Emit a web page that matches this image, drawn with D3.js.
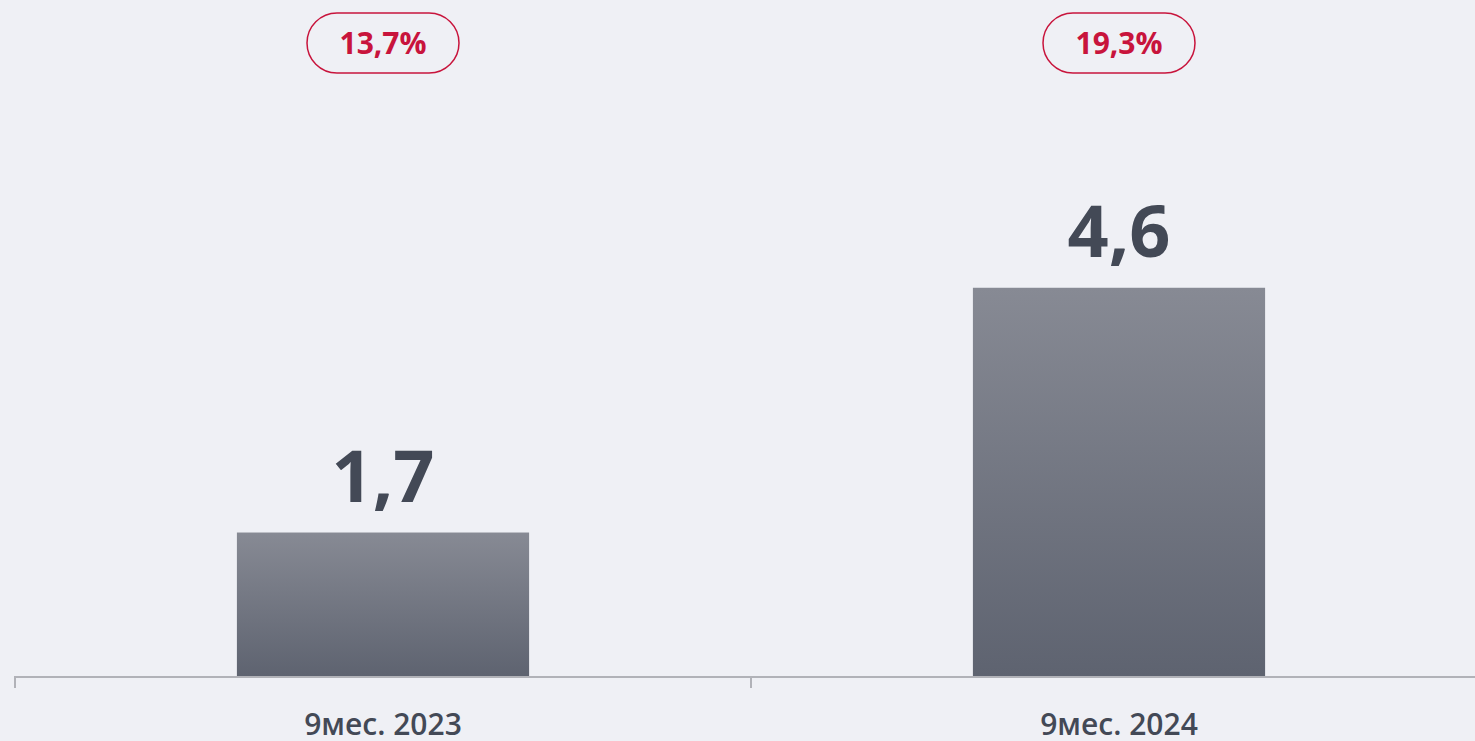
<!DOCTYPE html>
<html>
<head>
    <title>9 months</title>
    <style>
        body { margin: 0; background: #eff0f5; overflow: hidden; }
    </style>
    <script src="https://cdn.jsdelivr.net/npm/d3@7"></script>
</head>
<body>
    <div id="chart"></div>
    <script>
        const categories = ["9мес. 2023", "9мес. 2024"];
        const values = [1.7, 4.6];
        const valueLabels = ["1,7", "4,6"];
        const shareLabels = ["13,7%", "19,3%"];

        const width = 1475, height = 741;
        const baseY = 676;

        const svg = d3.select("#chart")
            .append("svg")
            .attr("width", width)
            .attr("height", height)
            .style("background", "#eff0f5");

        const grad = svg.append("defs").append("linearGradient")
            .attr("id", "barGrad")
            .attr("x1", 0).attr("y1", 0).attr("x2", 0).attr("y2", 1);
        grad.append("stop").attr("offset", "0%").attr("stop-color", "#878a94");
        grad.append("stop").attr("offset", "100%").attr("stop-color", "#5e6370");

        // band scale runs past the right edge like the original
        const x = d3.scaleBand()
            .domain(categories)
            .range([15, 1487]);

        const y = d3.scaleLinear()
            .domain([0, 8])
            .range([baseY, baseY - 8 * 84.4]);

        const barW = x.bandwidth() * 0.397;

        svg.append("g")
            .selectAll("rect")
            .data(values)
            .enter().append("rect")
            .attr("x", (d, i) => x(categories[i]) + x.bandwidth() / 2 - barW / 2)
            .attr("y", d => y(d))
            .attr("width", barW)
            .attr("height", d => y(0) - y(d))
            .attr("fill", "url(#barGrad)");

        // axis line with ticks at band edges
        const axis = svg.append("g").attr("stroke", "#b1b2b8").attr("stroke-width", 2);
        axis.append("line")
            .attr("x1", 15).attr("x2", width)
            .attr("y1", baseY + 1).attr("y2", baseY + 1);
        categories.forEach(c => {
            axis.append("line")
                .attr("x1", x(c)).attr("x2", x(c))
                .attr("y1", baseY).attr("y2", baseY + 12);
        });

        // category labels
        svg.append("g")
            .selectAll("text")
            .data(categories)
            .enter().append("text")
            .attr("x", d => x(d) + x.bandwidth() / 2)
            .attr("y", 735)
            .attr("text-anchor", "middle")
            .attr("font-family", "Open Sans")
            .attr("font-weight", 600)
            .attr("font-size", 30)
            .attr("fill", "#434956")
            .text(d => d);

        // value labels
        svg.append("g")
            .selectAll("text")
            .data(values)
            .enter().append("text")
            .attr("x", (d, i) => x(categories[i]) + x.bandwidth() / 2)
            .attr("y", d => y(d) - 31)
            .attr("text-anchor", "middle")
            .attr("font-family", "Open Sans")
            .attr("font-weight", 700)
            .attr("font-size", 72)
            .attr("fill", "#434956")
            .text((d, i) => valueLabels[i]);

        // share pills
        const pills = svg.append("g")
            .selectAll("g")
            .data(shareLabels)
            .enter().append("g")
            .attr("transform", (d, i) => `translate(${x(categories[i]) + x.bandwidth() / 2}, 43)`);
        pills.append("rect")
            .attr("x", -76).attr("y", -30)
            .attr("width", 152).attr("height", 60)
            .attr("rx", 30).attr("ry", 30)
            .attr("fill", "none")
            .attr("stroke", "#c8143c")
            .attr("stroke-width", 1.5);
        pills.append("text")
            .attr("y", 11)
            .attr("text-anchor", "middle")
            .attr("font-family", "Open Sans")
            .attr("font-weight", 700)
            .attr("font-size", 30)
            .attr("fill", "#c8143c")
            .text(d => d);
    </script>
</body>
</html>
